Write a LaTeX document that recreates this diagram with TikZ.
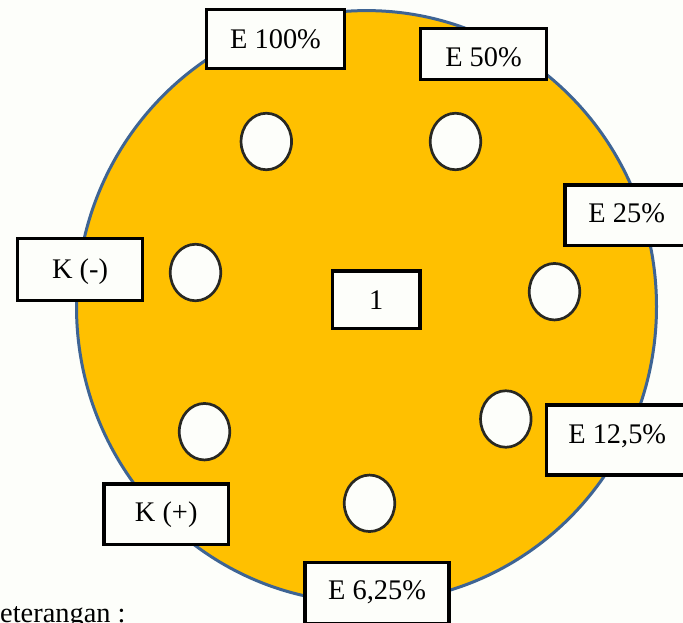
\documentclass[tikz,border=0pt]{standalone}
\usepackage{fontspec}
\setmainfont{Liberation Serif}
\usetikzlibrary{shapes.geometric}
\definecolor{dishfill}{RGB}{255,192,0}
\definecolor{dishline}{RGB}{62,100,148}
\definecolor{holeline}{RGB}{40,40,35}
\definecolor{bgcol}{RGB}{253,254,250}
\tikzset{
  labelbox/.style={draw=black, line width=3.3pt, fill=bgcol, inner sep=0pt,
    text height=18.8pt, text depth=0pt, align=center,
    font=\fontsize{28.4}{34}\selectfont},
  hole/.style={ellipse, draw=holeline, line width=2.7pt, fill=bgcol, inner sep=0pt,
    minimum width=50.5pt, minimum height=56.5pt},
}
\begin{document}
\begin{tikzpicture}[x=1pt,y=-1pt]
\useasboundingbox (0,0) rectangle (683,623);
\clip (0,0) rectangle (683,623);
\fill[bgcol] (0,0) rectangle (683,623);
% dish
\draw[fill=dishfill, draw=dishline, line width=3pt] (366.5,306.6) ellipse [x radius=290, y radius=296];
% wells
\node[hole] (h1) at (266.3,141.5) {};
\node[hole] (h2) at (455.5,141.5) {};
\node[hole] (h3) at (195.5,272.5) {};
\node[hole] (h4) at (554.5,291.7) {};
\node[hole] (h5) at (505.8,419.0) {};
\node[hole] (h6) at (204.5,431.7) {};
\node[hole] (h7) at (369.5,503.3) {};
% labels
\node[labelbox, minimum width=137.7pt, minimum height=58.7pt] (e100) at (275.5,39.0) {E 100\%};
\node[labelbox, minimum width=125.7pt, minimum height=50.7pt] (e50) at (483.5,54.0) {\raisebox{-2.7pt}{E 50\%}};
\node[labelbox, minimum width=123.7pt, minimum height=60.7pt] (e25) at (626.7,215.3) {\raisebox{2.3pt}{E 25\%}};
\node[labelbox, minimum width=124.7pt, minimum height=61.7pt] (kmin) at (80.0,269.5) {K (-)};
\node[labelbox, minimum width=87.7pt, minimum height=57.7pt] (one) at (376.2,299.7) {1};
\node[labelbox, minimum width=141.1pt, minimum height=70.1pt] (e125) at (617.2,440.0) {\raisebox{6pt}{E 12,5\%}};
\node[labelbox, minimum width=124.4pt, minimum height=60.4pt] (kplus) at (166.2,514.2) {\raisebox{2.5pt}{K (+)}};
\node[labelbox, minimum width=144.1pt, minimum height=61.3pt] (e625) at (377.0,593.0) {\raisebox{3pt}{E 6,25\%}};
% caption
\node[anchor=base west, inner sep=0pt, font=\fontsize{28.4}{34}\selectfont] (ket) at (-20.5,622) {Keterangan :};
\end{tikzpicture}
\end{document}
